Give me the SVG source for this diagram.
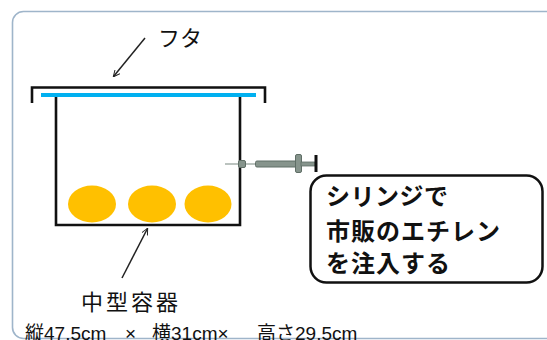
<svg xmlns="http://www.w3.org/2000/svg" width="547" height="340" viewBox="0 0 547 340">
  <style>
    .jp { font-family: "Noto Sans CJK JP", "Noto Sans", sans-serif; fill: #111; }
    .dim { font-family: "Liberation Sans", "Noto Sans CJK JP", sans-serif; font-size: 19px; fill: #111; }
    .wall { fill: none; stroke: #111; stroke-width: 2.6; }
    .fruit { fill: #ffc000; }
    .lead { fill: none; stroke: #222; stroke-width: 1.5; }
  </style>
  <defs>
    <marker id="open-arrow" viewBox="0 0 10 10" refX="9" refY="5" markerWidth="7" markerHeight="7" orient="auto" markerUnits="userSpaceOnUse">
      <path d="M0,0.5 L9.5,5 L0,9.5" fill="none" stroke="#222" stroke-width="1.4"/>
    </marker>
  </defs>

  <rect width="547" height="340" fill="#ffffff"/>

  <!-- panel frame -->
  <g id="frame">
    <rect x="12.5" y="11.5" width="560" height="327" rx="11" fill="none" stroke="#9fb5ca" stroke-width="1.6"/>
  </g>

  <!-- lid: bracket with blue seal -->
  <g id="lid">
    <path d="M32,103 V87.5 H265 V103" class="wall" stroke-width="2"/>
    <line x1="41" y1="95" x2="256" y2="95" stroke="#00b0f0" stroke-width="4"/>
  </g>

  <!-- container -->
  <g id="container">
    <path d="M56,97 V225 H240 V97" class="wall"/>
  </g>

  <!-- fruit inside -->
  <g id="fruit">
    <ellipse class="fruit" cx="92" cy="204" rx="24" ry="18.5"/>
    <ellipse class="fruit" cx="152" cy="204" rx="24" ry="18.5"/>
    <ellipse class="fruit" cx="208" cy="204" rx="23.5" ry="18.5"/>
  </g>

  <!-- syringe through the container wall -->
  <g id="syringe">
    <line x1="225" y1="164" x2="256" y2="164" stroke="#8e9c94" stroke-width="1.2"/>
    <rect x="238.5" y="160.5" width="7" height="7" rx="1.5" fill="#86948c" stroke="#5f6e66" stroke-width="1"/>
    <rect x="255.5" y="161" width="42" height="6" rx="1.5" fill="#86948c" stroke="#5f6e66" stroke-width="1"/>
    <rect x="295.5" y="154.5" width="6" height="18" rx="1.5" fill="#86948c" stroke="#5f6e66" stroke-width="1"/>
    <rect x="301" y="162" width="14" height="4" fill="#86948c" stroke="#5f6e66" stroke-width="0.8"/>
    <line x1="316" y1="155" x2="316" y2="172" stroke="#111" stroke-width="3"/>
  </g>

  <!-- callout -->
  <g id="callout">
    <rect x="310.5" y="175.5" width="232" height="107" rx="16" fill="#fff" stroke="#111" stroke-width="2.5"/>
    <text class="jp" font-size="24" font-weight="600" x="326" y="205" letter-spacing="0.5">シリンジで</text>
    <text class="jp" font-size="24" font-weight="600" x="326" y="240" letter-spacing="1">市販のエチレン</text>
    <text class="jp" font-size="24" font-weight="600" x="326" y="272" letter-spacing="1">を注入する</text>
  </g>

  <!-- labels -->
  <g id="label-lid">
    <text class="jp" font-size="22" x="158" y="46">フタ</text>
  </g>
  <g id="label-container">
    <text class="jp" font-size="22" x="81" y="310" letter-spacing="3">中型容器</text>
  </g>
  <g id="label-size">
    <text class="dim" y="340"><tspan x="25">縦47.5cm</tspan><tspan x="125">×</tspan><tspan x="152">横31cm×</tspan><tspan x="257">高さ29.5cm</tspan></text>
  </g>

  <!-- leader arrows -->
  <g id="connectors">
    <line class="lead" x1="145" y1="38" x2="113.5" y2="76.5" marker-end="url(#open-arrow)"/>
    <line class="lead" x1="122" y1="278" x2="147.5" y2="228.5" marker-end="url(#open-arrow)"/>
  </g>
</svg>
